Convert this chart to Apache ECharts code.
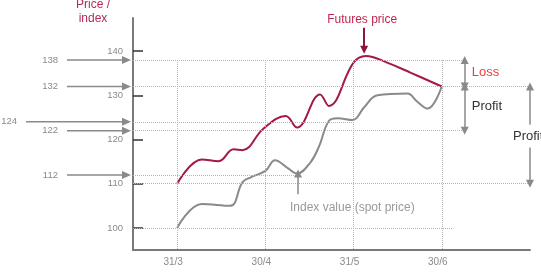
<!DOCTYPE html>
<html>
<head>
<meta charset="utf-8">
<script src="https://cdn.jsdelivr.net/npm/echarts@6/dist/echarts.min.js"></script>
<style>
  html, body { margin: 0; padding: 0; background: #fff; }
  #chart { width: 541px; height: 280px; }
</style>
</head>
<body>
<div id="chart"></div>
<script>
// x is measured in months from 31/3
const monthLabels = ["31/3", "30/4", "31/5", "30/6"];
const monthPos = [0, 1, 2, 3];
const yTicks = [100, 110, 120, 130, 140];

// futures price (red)
const futuresX = [0, 0.28, 0.47, 0.64, 0.74, 0.98, 1.23, 1.36, 1.62, 1.72, 2.0, 2.14, 2.38, 2.65, 3.0];
const futuresY = [110, 115.5, 115.1, 117.8, 117.6, 122.5, 125.3, 122.7, 130.2, 127.6, 137.4, 138.9, 137.4, 135.1, 132];

// index value / spot price (grey)
const indexX = [0, 0.28, 0.6, 0.74, 0.83, 1.0, 1.11, 1.25, 1.36, 1.51, 1.61, 1.72, 1.82, 1.99, 2.12, 2.27, 2.61, 2.72, 2.84, 3.0];
const indexY = [100, 105.4, 105.0, 110.3, 111.4, 112.9, 115.3, 113.6, 112.3, 114.8, 118.5, 124.2, 124.8, 124.4, 127.3, 130.0, 130.4, 128.6, 127.0, 132];

// levels pointed at from the left
const levelValues = [138, 132, 124, 122, 112];
const levelLabels = ["138", "132", "124", "122", "112"];
const levelEnds = [3.26, 4, 2, 3.26, 1.37];
// starting levels (dotted only)
const baseValues = [110, 100];
const baseEnds = [4, 3.13];

const font = "'Liberation Sans', Arial, sans-serif";
const grey = "#8a8a8a";

const guideLines = [];
levelValues.forEach((v, i) => guideLines.push([{ coord: [-0.5, v] }, { coord: [levelEnds[i], v] }]));
baseValues.forEach((v, i) => guideLines.push([{ coord: [-0.5, v] }, { coord: [baseEnds[i], v] }]));
monthPos.forEach((x) => guideLines.push([{ coord: [x, 138] }, { coord: [x, 95] }]));

const lossX = 3.26;
const arrowGrey = { color: grey, width: 1.5, type: "solid" };
const arrowLines = [
  [{ coord: [lossX, 138], symbol: "triangle" }, { coord: [lossX, 132] }],
  [{ coord: [lossX, 132], symbol: "triangle" }, { coord: [lossX, 122] }],
  [{ coord: [4, 132], symbol: "triangle" }, { coord: [4, 110] }],
  [{ coord: [1.37, 107.6], symbol: "none" }, { coord: [1.37, 112.3] }],
  [
    { coord: [2.12, 145.3], symbol: "none", lineStyle: { color: "#8e1538", width: 2 } },
    { coord: [2.12, 140.3], itemStyle: { color: "#8e1538" } },
  ],
];

const chart = echarts.init(document.getElementById("chart"));

chart.setOption({
  animation: false,
  grid: { left: 133, right: 11, top: 18, bottom: 30 },
  xAxis: {
    type: "value",
    min: -0.5,
    max: 4,
    axisLine: { lineStyle: { color: "#7a7a7a", width: 2 } },
    axisTick: { show: false },
    splitLine: { show: false },
    axisLabel: {
      customValues: monthPos,
      formatter: (v) => monthLabels[monthPos.indexOf(v)],
      color: grey,
      fontSize: 10,
      fontFamily: font,
      margin: 7,
      padding: [0, 8, 0, 0],
    },
  },
  yAxis: {
    type: "value",
    min: 95,
    max: 147.5,
    axisLine: { show: true, onZero: false, lineStyle: { color: "#7a7a7a", width: 2 } },
    axisTick: {
      show: true,
      inside: true,
      length: 10,
      customValues: yTicks,
      lineStyle: { color: "#333", width: 1.5 },
    },
    axisLabel: { customValues: yTicks, color: grey, fontSize: 9.5, fontFamily: font, margin: 10 },
    splitLine: { show: false },
  },
  series: [
    {
      name: "guides",
      type: "line",
      data: [],
      silent: true,
      markLine: {
        silent: true,
        symbol: "none",
        label: { show: false },
        lineStyle: { color: "#b5b5b5", width: 1, type: "dotted" },
        data: guideLines,
      },
    },
    {
      name: "Index value (spot price)",
      type: "line",
      data: indexX.map((x, i) => [x, indexY[i]]),
      smooth: 0.4,
      showSymbol: false,
      lineStyle: { color: grey, width: 2 },
    },
    {
      name: "Futures price",
      type: "line",
      data: futuresX.map((x, i) => [x, futuresY[i]]),
      smooth: 0.4,
      showSymbol: false,
      lineStyle: { color: "#a21a45", width: 2 },
    },
    {
      name: "arrows",
      type: "line",
      data: [],
      silent: true,
      markLine: {
        silent: true,
        symbol: ["none", "triangle"],
        symbolSize: 8,
        label: { show: false },
        lineStyle: arrowGrey,
        itemStyle: { color: grey },
        data: arrowLines,
      },
    },
  ],
});

// text and left-hand arrows, placed from the axis scales
const px = (x, y) => chart.convertToPixel({ gridIndex: 0 }, [x, y]);
const axisX = px(-0.5, 100)[0];
const graphic = [];

graphic.push({
  type: "text",
  x: axisX - 40,
  y: 12,
  style: {
    text: "Price /\nindex",
    fill: "#b22a5e",
    font: "12px " + font,
    align: "center",
    verticalAlign: "middle",
    lineHeight: 14,
  },
});

levelValues.forEach((v, i) => {
  const y = px(0, v)[1];
  const far = levelLabels[i] === "124";
  const x0 = axisX - (far ? 107 : 66);
  const tip = axisX - 2;
  graphic.push({
    type: "line",
    shape: { x1: x0, y1: y, x2: tip - 7, y2: y },
    style: { stroke: grey, lineWidth: 1.5 },
  });
  graphic.push({
    type: "polygon",
    shape: { points: [[tip, y], [tip - 9, y - 4], [tip - 9, y + 4]] },
    style: { fill: grey },
  });
  graphic.push({
    type: "text",
    x: x0 - 9,
    y: y,
    style: { text: levelLabels[i], fill: grey, font: "9.5px " + font, align: "right", verticalAlign: "middle" },
  });
});

const fTop = px(2.12, 145.3);
graphic.push({
  type: "text",
  x: fTop[0] - 2,
  y: fTop[1] - 8,
  style: { text: "Futures price", fill: "#bf2750", font: "12px " + font, align: "center", verticalAlign: "middle" },
});

const iBot = px(1.37, 107.6);
graphic.push({
  type: "text",
  x: iBot[0] - 8,
  y: iBot[1] + 13,
  style: { text: "Index value (spot price)", fill: "#999", font: "12px " + font, align: "left", verticalAlign: "middle" },
});

const lossMid = px(lossX, (138 + 132) / 2);
graphic.push({
  type: "text",
  x: lossMid[0] + 7,
  y: lossMid[1] - 1,
  style: { text: "Loss", fill: "#e8413f", font: "13px " + font, align: "left", verticalAlign: "middle" },
});
const profMid = px(lossX, (132 + 122) / 2);
graphic.push({
  type: "text",
  x: profMid[0] + 7,
  y: profMid[1] - 2,
  style: { text: "Profit", fill: "#333", font: "13px " + font, align: "left", verticalAlign: "middle" },
});
const bigMid = px(4, (132 + 110) / 2);
graphic.push({
  type: "text",
  x: bigMid[0] - 17,
  y: bigMid[1] + 1,
  z: 100,
  style: {
    text: "Profit",
    fill: "#333",
    font: "13px " + font,
    align: "left",
    verticalAlign: "middle",
    backgroundColor: "#fff",
    padding: [5, 0, 5, 0],
  },
});

chart.setOption({ graphic: graphic });
</script>
</body>
</html>
